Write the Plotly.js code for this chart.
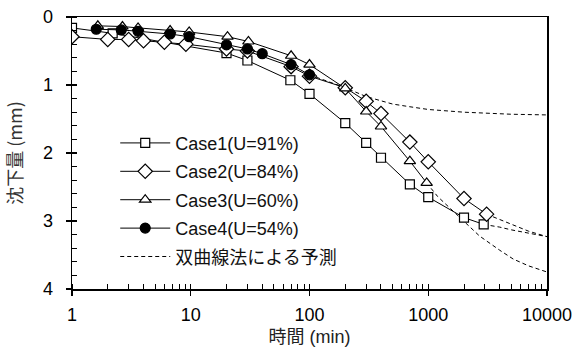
<!DOCTYPE html>
<html><head><meta charset="utf-8">
<script src="https://cdn.plot.ly/plotly-3.0.1.min.js"></script>
<style>body{margin:0;background:#fff}#c{width:587px;height:351px}</style>
</head><body><div id="c"></div>
<script>
// Case1 (U=91%)
const case1T = [1, 2.2, 20, 30, 69, 100, 200, 300, 400, 700, 1000, 2000, 2930];
const case1S = [0.16, 0.24, 0.53, 0.64, 0.93, 1.13, 1.56, 1.85, 2.07, 2.46, 2.65, 2.95, 3.05];
// Case2 (U=84%)
const case2T = [1, 2, 3, 4, 6, 9.1, 20, 30, 70, 100, 200, 300, 400, 700, 1000, 2000, 3100];
const case2S = [0.29, 0.33, 0.33, 0.35, 0.37, 0.40, 0.47, 0.50, 0.73, 0.87, 1.04, 1.24, 1.42, 1.84, 2.13, 2.67, 2.90];
// Case3 (U=60%)
const case3T = [1.65, 2.66, 3.6, 6.7, 9.7, 20.4, 30.6, 70, 100, 200, 300, 400, 700, 970];
const case3S = [0.13, 0.14, 0.16, 0.20, 0.22, 0.29, 0.36, 0.57, 0.70, 1.05, 1.39, 1.61, 2.12, 2.44];
// Case4 (U=54%)
const case4T = [1.6, 2.6, 3.6, 6.7, 9.7, 20, 30, 40, 70, 100];
const case4S = [0.18, 0.19, 0.21, 0.25, 0.29, 0.41, 0.47, 0.54, 0.70, 0.85];
// 双曲線法による予測
const pred4T = [100, 150, 200, 300, 500, 700, 1000, 2000, 5000, 10000];
const pred4S = [0.85, 0.96, 1.04, 1.17, 1.28, 1.32, 1.36, 1.40, 1.43, 1.44];
const pred3T = [970, 1200, 1500, 2000, 2700, 4000, 5200, 7000, 10000];
const pred3S = [2.44, 2.64, 2.80, 3.00, 3.22, 3.43, 3.56, 3.66, 3.75];
const pred2T = [3100, 4000, 5000, 7000, 10000];
const pred2S = [2.90, 2.98, 3.05, 3.15, 3.23];
const pred1T = [2930, 4000, 5000, 7000, 10000];
const pred1S = [3.05, 3.09, 3.13, 3.18, 3.23];

const names = ['Case1(U=91%)', 'Case2(U=84%)', 'Case3(U=60%)', 'Case4(U=54%)'];
const predName = '双曲線法による予測';
const xTickVals = [1, 10, 100, 1000, 10000];
const xTickText = ['1', '10', '100', '1000', '10000'];

function caseTrace(x, y, name, sym, fill, size, g, rank) {
  return {x: x, y: y, name: name, mode: 'lines+markers', type: 'scatter',
    legendgroup: g, legendrank: rank, line: {color: '#000', width: 1, dash: 'solid'},
    marker: {symbol: sym, size: size, color: fill, line: {color: '#000', width: 1.2}}};
}
function predTrace(x, y, show) {
  return {x: x, y: y, name: predName, mode: 'lines', type: 'scatter',
    legendgroup: 'p', legendrank: 5, showlegend: show,
    line: {color: '#000', width: 1, dash: '4px,3px'}};
}
const traces = [
  predTrace(pred4T, pred4S, true),
  predTrace(pred3T, pred3S, false),
  predTrace(pred2T, pred2S, false),
  predTrace(pred1T, pred1S, false),
  caseTrace(case1T, case1S, names[0], 'square', '#fff', 9, 'a', 1),
  caseTrace(case2T, case2S, names[1], 'diamond', '#fff', 11, 'b', 2),
  caseTrace(case3T, case3S, names[2], 'triangle-up', '#fff', 10, 'c', 3),
  caseTrace(case4T, case4S, names[3], 'circle', '#000', 10, 'd', 4),
  {x: [], y: [], xaxis: 'x2', yaxis: 'y2', showlegend: false, type: 'scatter'}
];

const fontMain = {family: 'Liberation Sans, Arial, sans-serif', size: 18, color: '#000'};
const fontJP = 'Noto Sans CJK JP, sans-serif';

const layout = {
  width: 587, height: 351,
  margin: {l: 72, r: 40, t: 17, b: 62},
  paper_bgcolor: '#fff', plot_bgcolor: '#fff',
  font: fontMain,
  showlegend: true,
  legend: {x: 0.091, y: 0.604, xanchor: 'left', yanchor: 'top',
    bgcolor: 'rgba(0,0,0,0)', borderwidth: 0, traceorder: 'grouped',
    tracegroupgap: 2, itemwidth: 50,
    font: {family: 'Liberation Sans, Noto Sans CJK JP, sans-serif', size: 18, color: '#111'}},
  xaxis: {type: 'log', range: [0, 4], showline: true, linecolor: '#000', linewidth: 1.5,
    mirror: true, showgrid: false, zeroline: false,
    tickvals: xTickVals, ticktext: xTickText,
    ticks: 'outside', ticklen: 5, tickcolor: '#000', tickwidth: 1.2, ticklabelstandoff: 4,
    minor: {ticks: 'inside', ticklen: 5, tickcolor: '#000', tickwidth: 1, dtick: 'D1', showgrid: false},
    tickfont: fontMain,
    title: {text: '時間 (min)', font: {family: 'Liberation Sans, Noto Sans CJK JP, sans-serif', size: 18, color: '#222'}, standoff: 6}},
  yaxis: {range: [4, 0], showline: true, linecolor: '#000', linewidth: 1.5, mirror: true,
    showgrid: false, zeroline: false, dtick: 1, tick0: 0,
    ticks: 'outside', ticklen: 5, tickcolor: '#000', tickwidth: 1.2, ticklabelstandoff: 9,
    minor: {ticks: 'inside', ticklen: 5, tickcolor: '#000', tickwidth: 1, dtick: 0.2, showgrid: false},
    tickfont: fontMain,
    title: {text: '沈下量 (mm)', font: {family: fontJP, size: 18, color: '#333'}, standoff: 15}},
  xaxis2: {type: 'log', range: [0, 4], overlaying: 'x', anchor: 'y2', showline: false,
    showgrid: false, zeroline: false, showticklabels: false, tickvals: xTickVals,
    ticks: 'inside', ticklen: 5, tickcolor: '#000', tickwidth: 1.2, side: 'bottom'},
  yaxis2: {range: [4, 0], overlaying: 'y', anchor: 'x2', showline: false, showgrid: false,
    zeroline: false, showticklabels: false, dtick: 1, tick0: 0,
    ticks: 'inside', ticklen: 5, tickcolor: '#000', tickwidth: 1.2, side: 'left'}
};
Plotly.newPlot('c', traces, layout, {staticPlot: true});
</script></body></html>
